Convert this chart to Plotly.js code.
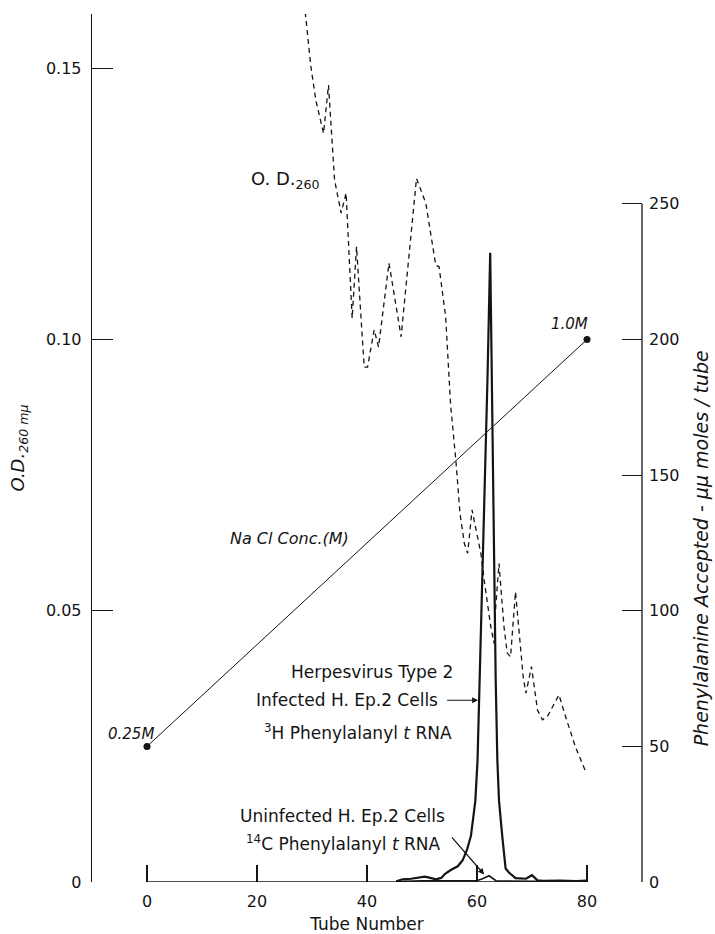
<!DOCTYPE html>
<html>
<head>
<meta charset="utf-8">
<script src="https://cdn.plot.ly/plotly-3.0.1.min.js"></script>
<style>
html,body{margin:0;padding:0;background:#fff;}
#chart{width:715px;height:934px;}
</style>
</head>
<body>
<div id="chart"></div>
<script>
// O.D. 260 (left axis), dashed
var odTube  = [28.6, 29.8, 30.7, 32.1, 33.0, 33.5, 34.1, 35.3, 36.2, 37.3, 38.1, 38.9, 39.5, 40.1, 41.3, 42.1, 44.0, 46.2, 49.0, 50.7, 52.5, 53.1, 54.3, 55.2, 55.8, 56.2, 56.9, 57.7, 58.3, 59.1, 60.7, 61.3, 62.5, 63.1, 63.4, 64.0, 64.9, 65.5, 66.1, 67.0, 67.9, 68.4, 68.9, 69.9, 71.0, 71.9, 72.8, 74.9, 76.1, 77.9, 79.9];
var odValue = [0.162, 0.1503, 0.1441, 0.1380, 0.1469, 0.1380, 0.1294, 0.1233, 0.1270, 0.1039, 0.1171, 0.1042, 0.0949, 0.0949, 0.1018, 0.0986, 0.1141, 0.1005, 0.1297, 0.1251, 0.1137, 0.1134, 0.1042, 0.0880, 0.0815, 0.0772, 0.0680, 0.0624, 0.0606, 0.0686, 0.0606, 0.0557, 0.0471, 0.0440, 0.0507, 0.0587, 0.0471, 0.0422, 0.0415, 0.0535, 0.0434, 0.0378, 0.0348, 0.0397, 0.0317, 0.0299, 0.0305, 0.0345, 0.0305, 0.0249, 0.0200];

// NaCl gradient (left axis units)
var naclTube  = [0, 80];
var naclValue = [0.025, 0.10];
var naclLabels = ['0.25M', '1.0M'];

// 3H Phenylalanyl tRNA, herpesvirus infected (right axis, µµmoles/tube)
var hsvTube  = [45.3, 46.5, 48.0, 49.5, 50.5, 51.5, 52.5, 53.5, 54.2, 55.3, 56.5, 57.4, 58.2, 58.9, 59.7, 60.1, 60.5, 61.6, 61.9, 62.4, 62.7, 62.8, 63.0, 63.4, 63.7, 64.0, 64.6, 65.2, 65.8, 67.0, 68.9, 70.0, 71.0, 72.0, 75.0, 78.0, 80.0];
var hsvValue = [0.3, 1.0, 1.2, 1.8, 2.0, 1.5, 1.0, 1.5, 3.0, 4.5, 5.8, 8.0, 12.0, 17.0, 30.0, 45.0, 74.5, 163, 185, 232, 185, 163, 120, 74.5, 45.0, 30.0, 16.7, 5.0, 3.5, 1.4, 1.2, 2.5, 0.6, 0.4, 0.5, 0.3, 0.5];

// 14C Phenylalanyl tRNA, uninfected (right axis)
var uninfTube  = [45.3, 47.0, 50.0, 55.0, 59.8, 61.0, 62.2, 63.5, 66.0, 70.0, 75.0, 80.0];
var uninfValue = [0.0, 0.3, 0.4, 0.3, 0.4, 1.2, 2.3, 0.4, 0.3, 0.3, 0.3, 0.3];

var xTicks = [0, 20, 40, 60, 80];
var yTicks = [0, 0.05, 0.10, 0.15];
var yTickText = ['0', '0.05', '0.10', '0.15'];
var y2Ticks = [0, 50, 100, 150, 200, 250];

var FONT = 'DejaVu Sans, Liberation Sans, sans-serif';
var INK = '#141414';

var traces = [
  {x: odTube, y: odValue, mode: 'lines', line: {color: INK, width: 1.3, dash: '5px,4px'}, yaxis: 'y', hoverinfo: 'skip'},
  {x: naclTube, y: naclValue, mode: 'lines+markers', line: {color: INK, width: 1}, marker: {color: INK, size: 7}, yaxis: 'y', hoverinfo: 'skip'},
  {x: hsvTube, y: hsvValue, mode: 'lines', line: {color: INK, width: 2.2}, yaxis: 'y2', hoverinfo: 'skip'},
  {x: uninfTube, y: uninfValue, mode: 'lines', line: {color: INK, width: 1.6}, yaxis: 'y2', hoverinfo: 'skip'}
];

var ann = [];
function txt(x, y, yref, text, size, xanchor, italic) {
  ann.push({x: x, y: y, xref: 'x', yref: yref, text: italic ? '<i>' + text + '</i>' : text, showarrow: false,
            xanchor: xanchor || 'center', yanchor: 'middle', font: {family: FONT, size: size, color: INK}});
}
txt(18.6, 0.1294, 'y', 'O. D.<sub>260</sub>', 18, 'left');
txt(14.8, 0.0634, 'y', 'Na Cl Conc.(M)', 16, 'left', true);
txt(naclTube[0] - 2.9, naclValue[0] + 0.0022, 'y', naclLabels[0], 15, 'center', true);
txt(naclTube[1] - 3.2, naclValue[1] + 0.0028, 'y', naclLabels[1], 15, 'center', true);
txt(56.0, 0.0388, 'y', 'Herpesvirus Type 2', 17, 'right');
txt(53.3, 0.0336, 'y', 'Infected H. Ep.2 Cells', 17, 'right');
txt(55.8, 0.0276, 'y', '<sup>3</sup>H Phenylalanyl <i>t</i> RNA', 17, 'right');
txt(54.5, 0.0121, 'y', 'Uninfected H. Ep.2 Cells', 17, 'right');
txt(53.9, 0.0072, 'y', '<sup>14</sup>C Phenylalanyl <i>t</i> RNA', 17, 'right');

// arrows
ann.push({x: 60.2, y: 67, xref: 'x', yref: 'y2', ax: 54.3, ay: 67, axref: 'x', ayref: 'y2', text: '', showarrow: true,
          arrowhead: 2, arrowsize: 1, arrowwidth: 1.2, arrowcolor: INK});
ann.push({x: 61.3, y: 2.8, xref: 'x', yref: 'y2', ax: 55.2, ay: 17, axref: 'x', ayref: 'y2', text: '', showarrow: true,
          arrowhead: 2, arrowsize: 1, arrowwidth: 1.2, arrowcolor: INK});

// right axis title
ann.push({x: 1.0, xref: 'paper', xshift: 59, y: 123, yref: 'y2', text: '<i>Phenylalanine Accepted - μμ moles / tube</i>',
          showarrow: false, textangle: -90, xanchor: 'center', yanchor: 'middle', font: {family: FONT, size: 19, color: INK}});

var layout = {
  width: 715, height: 934,
  margin: {l: 92, r: 73, t: 14, b: 52},
  paper_bgcolor: '#fff', plot_bgcolor: '#fff',
  showlegend: false,
  xaxis: {range: [-10, 90], tickvals: xTicks, ticks: 'inside', ticklen: 17, tickwidth: 1.3, tickcolor: INK,
          showgrid: false, zeroline: false, showline: false,
          tickfont: {family: FONT, size: 16, color: INK}, ticklabelstandoff: 8,
          title: {text: 'Tube Number', font: {family: FONT, size: 17, color: INK}, standoff: 11}},
  yaxis: {range: [0, 0.16], tickvals: yTicks, ticktext: yTickText, ticks: 'inside', ticklen: 21, tickwidth: 1.3, tickcolor: INK,
          showgrid: false, zeroline: false, showline: true, linecolor: INK, linewidth: 1.3,
          tickfont: {family: FONT, size: 16, color: INK}, ticklabelstandoff: 6,
          title: {text: '<i>O.D.<sub>260 mμ</sub></i>', font: {family: FONT, size: 18, color: INK}, standoff: 16}},
  yaxis2: {range: [0, 320], overlaying: 'y', side: 'right', tickvals: y2Ticks, ticks: 'inside', ticklen: 20, tickwidth: 1.2, tickcolor: INK,
           showgrid: false, zeroline: false, showline: false,
           tickfont: {family: FONT, size: 16, color: INK}, ticklabelstandoff: 6},
  shapes: [
    {type: 'line', xref: 'x', yref: 'y', x0: xTicks[0], x1: xTicks[xTicks.length - 1], y0: 0, y1: 0, line: {color: INK, width: 1.3}},
    {type: 'line', xref: 'paper', yref: 'y2', x0: 1, x1: 1, y0: y2Ticks[0], y1: y2Ticks[y2Ticks.length - 1], line: {color: INK, width: 1.3}}
  ],
  annotations: ann
};

Plotly.newPlot('chart', traces, layout, {staticPlot: true, displayModeBar: false});
</script>
</body>
</html>
